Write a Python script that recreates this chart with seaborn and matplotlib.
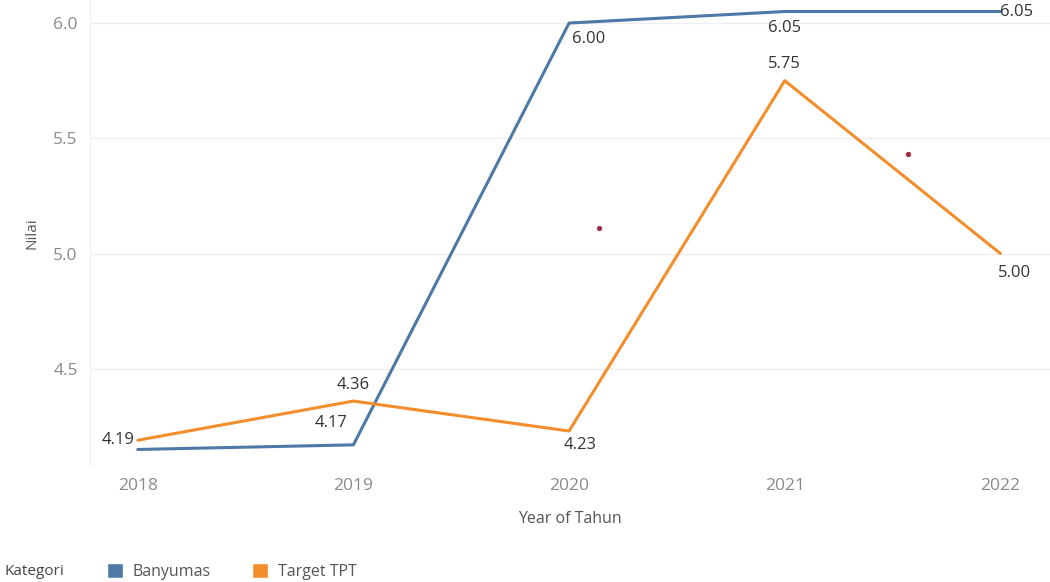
import pandas as pd
import seaborn as sns
import matplotlib.pyplot as plt
from matplotlib.patches import Patch

# Data
years = [2018, 2019, 2020, 2021, 2022]
banyumas = [4.15, 4.17, 6.00, 6.05, 6.05]
target_tpt = [4.19, 4.36, 4.23, 5.75, 5.00]
series_names = ["Banyumas", "Target TPT"]
y_ticks = [4.5, 5.0, 5.5, 6.0]

# stray dots in the picture
stray_x = [2020.14, 2021.57]
stray_y = [5.11, 5.43]

df = pd.DataFrame({
    "Year of Tahun": years * 2,
    "Nilai": banyumas + target_tpt,
    "Kategori": [series_names[0]] * 5 + [series_names[1]] * 5,
})

sns.set_style("white")
plt.rcParams["font.family"] = ["Open Sans", "DejaVu Sans"]

colors = {"Banyumas": "#4e79a7", "Target TPT": "#f28e2b"}

fig = plt.figure(figsize=(10.5, 5.82), dpi=100)
ax = fig.add_axes([0.086, 0.2, 0.914, 0.8])

sns.lineplot(data=df, x="Year of Tahun", y="Nilai", hue="Kategori",
             palette=colors, linewidth=2.2, legend=False, ax=ax)
ax.scatter(stray_x, stray_y, s=8, color="#a0304a", zorder=3)

ax.set_xlim(2017.78, 2022.23)
ax.set_ylim(4.08, 6.1)
ax.set_xticks(years)
ax.set_yticks(y_ticks)
ax.set_yticklabels([f"{v:.1f}" for v in y_ticks])
ax.tick_params(axis="both", colors="#8a8a8a", labelsize=12.5, length=0, pad=9)
ax.grid(axis="y", color="#efefef", linewidth=1)
for s in ["top", "right", "bottom"]:
    ax.spines[s].set_visible(False)
ax.spines["left"].set_color("#eeeeee")
ax.set_xlabel("Year of Tahun", color="#555555", fontsize=11.5, labelpad=12)
ax.set_ylabel("Nilai", color="#555555", fontsize=11, labelpad=10)

# data labels: (x offset, y offset, ha, va) per point
lab_style = {
    "Banyumas": [None, (-4, 10, "right", "bottom"), (2, -6, "left", "top"),
                 (0, -6, "center", "top"), (0, 0, "left", "center")],
    "Target TPT": [(-2, 0, "right", "center"), (0, 6, "center", "bottom"),
                   (-4, -4, "left", "top"), (0, 6, "center", "bottom"),
                   (-2, -8, "left", "top")],
}
for name, vals in zip(series_names, [banyumas, target_tpt]):
    for x, y, st in zip(years, vals, lab_style[name]):
        if st is None:
            continue
        dx, dy, ha, va = st
        ax.annotate(f"{y:.2f}", (x, y), xytext=(dx, dy), textcoords="offset points",
                    ha=ha, va=va, fontsize=12, color="#333333")

# legend along the bottom
fig.text(0.004, 0.018, "Kategori", fontsize=11, color="#444444", va="center")
handles = [Patch(facecolor=colors[n], label=n) for n in series_names]
fig.legend(handles=handles, loc="center left", bbox_to_anchor=(0.102, 0.018),
           ncol=2, frameon=False, fontsize=11.5, handlelength=1.0, handleheight=1.0,
           handletextpad=0.6, columnspacing=2.6, labelcolor="#555555",
           borderaxespad=0, borderpad=0)

fig.savefig("out.png", dpi=100)
